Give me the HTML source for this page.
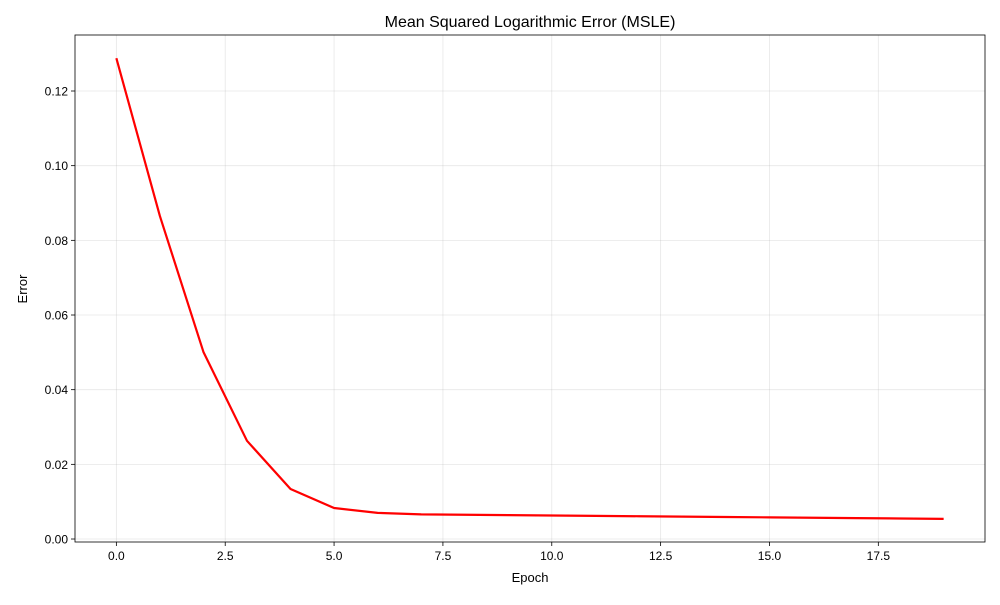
<!DOCTYPE html>
<html><head><meta charset="utf-8"><style>
body{margin:0;background:#fff;}
svg text{font-family:"Liberation Sans","DejaVu Sans",sans-serif;fill:#000;}
</style></head><body>
<svg id="chart" width="1000" height="600" xmlns="http://www.w3.org/2000/svg">
<rect width="1000" height="600" fill="#fff"/>
<g id="grid"></g>
<g id="axes"></g>
<g id="series"></g>
<text x="530" y="27" text-anchor="middle" font-size="16">Mean Squared Logarithmic Error (MSLE)</text>
<text x="530" y="582" text-anchor="middle" font-size="13">Epoch</text>
<text transform="translate(27,289) rotate(-90)" text-anchor="middle" font-size="13">Error</text>
</svg>
<script>
const epochs=[0,1,2,3,4,5,6,7,8,9,10,11,12,13,14,15,16,17,18,19];
const errors=[0.1288,0.0865,0.0501,0.0263,0.0134,0.0083,0.0070,0.0066,0.0065,0.0064,0.0063,0.0062,0.0061,0.0060,0.0059,0.0058,0.0057,0.0056,0.0055,0.0054];
const xTicks=[0,2.5,5,7.5,10,12.5,15,17.5];
const xTickLabels=["0.0","2.5","5.0","7.5","10.0","12.5","15.0","17.5"];
const yTicks=[0,0.02,0.04,0.06,0.08,0.10,0.12];
const yTickLabels=["0.00","0.02","0.04","0.06","0.08","0.10","0.12"];

const L=75,R=985,T=35,B=542;
const xMin=-0.95,xMax=19.95,yMin=-0.0008,yMax=0.135;
const sx=v=>L+(v-xMin)/(xMax-xMin)*(R-L);
const sy=v=>B-(v-yMin)/(yMax-yMin)*(B-T);
const NS="http://www.w3.org/2000/svg";
function mk(tag,attrs,parent){const e=document.createElementNS(NS,tag);for(const k in attrs)e.setAttribute(k,attrs[k]);parent.appendChild(e);return e;}
const grid=document.getElementById('grid'),axes=document.getElementById('axes'),series=document.getElementById('series');

xTicks.forEach((t,i)=>{
  const x=sx(t);
  const g=mk('line',{x1:x,x2:x,y1:T,y2:B,stroke:'#b0b0b0','stroke-width':0.8,'stroke-opacity':0.3},grid);
  
  
  const tk=mk('line',{x1:x,x2:x,y1:B,y2:B+4,stroke:'#000','stroke-width':0.8},axes);
  
  
  const tx=mk('text',{x:x,y:B+18,'text-anchor':'middle','font-size':12},axes);
  tx.textContent=xTickLabels[i];
  
  
});
yTicks.forEach((t,i)=>{
  const y=sy(t);
  const g=mk('line',{x1:L,x2:R,y1:y,y2:y,stroke:'#b0b0b0','stroke-width':0.8,'stroke-opacity':0.3},grid);
  
  
  const tk=mk('line',{x1:L-4,x2:L,y1:y,y2:y,stroke:'#000','stroke-width':0.8},axes);
  
  
  const tx=mk('text',{x:L-7,y:y+4.5,'text-anchor':'end','font-size':12},axes);
  tx.textContent=yTickLabels[i];
  
  
});
const frame=mk('rect',{x:L,y:T,width:R-L,height:B-T,fill:'none',stroke:'#000','stroke-width':0.8},axes);



const pts=epochs.map((e,i)=>sx(e).toFixed(2)+','+sy(errors[i]).toFixed(2)).join(' ');
const line=mk('polyline',{points:pts,fill:'none',stroke:'#ff0000','stroke-width':2.2,'stroke-linejoin':'round'},series);


</script>
</body></html>
